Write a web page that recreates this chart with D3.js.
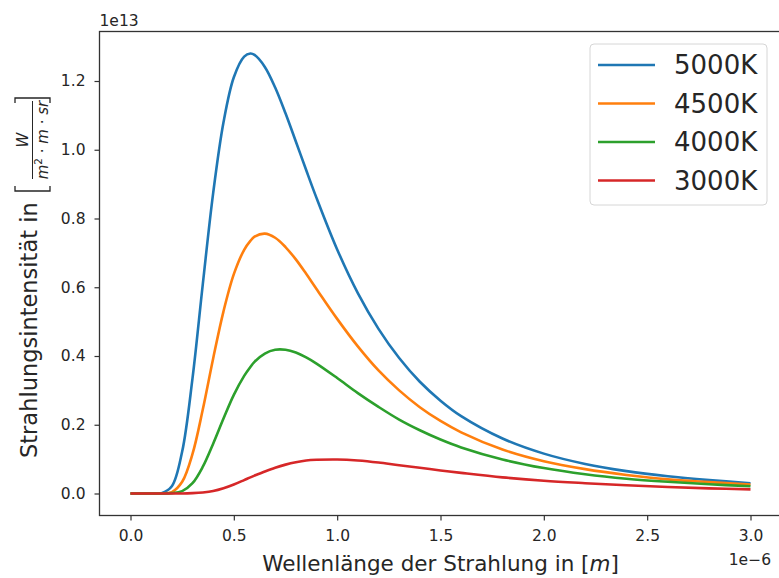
<!DOCTYPE html>
<html>
<head>
<meta charset="utf-8">
<script src="https://cdn.jsdelivr.net/npm/d3@7"></script>
<style>
  body { margin: 0; background: #fff; }
  text { font-family: "DejaVu Sans", sans-serif; fill: #262626; }
</style>
</head>
<body>
<svg class="chart" width="779" height="578"></svg>
<script>
// wavelength in 1e-6 m, intensity in 1e13 W/(m^2 m sr)
const wavelength = [0, 0.1, 0.15, 0.2, 0.25, 0.3, 0.35, 0.4, 0.45, 0.5,
  0.55, 0.58, 0.6, 0.65, 0.7, 0.75, 0.8, 0.85, 0.9,
  1.0, 1.1, 1.2, 1.3, 1.4, 1.5, 1.6,
  1.8, 2.0, 2.2, 2.4, 2.6, 2.8, 3.0];

const t5000 = [0, 0, 0.001, 0.021, 0.122, 0.335, 0.610, 0.874, 1.080, 1.211,
  1.271, 1.280, 1.276, 1.241, 1.181, 1.106, 1.024, 0.941, 0.860,
  0.710, 0.583, 0.479, 0.394, 0.325, 0.270, 0.225,
  0.160, 0.116, 0.086, 0.065, 0.050, 0.039, 0.030];
const t4500 = [0, 0, 0, 0.004, 0.034, 0.115, 0.245, 0.393, 0.530, 0.638,
  0.709, 0.735, 0.747, 0.756, 0.744, 0.717, 0.681, 0.639, 0.595,
  0.508, 0.428, 0.358, 0.300, 0.251, 0.211, 0.178,
  0.128, 0.094, 0.071, 0.054, 0.041, 0.033, 0.026];
const t4000 = [0, 0, 0, 0.001, 0.007, 0.030, 0.078, 0.145, 0.218, 0.287,
  0.342, 0.368, 0.383, 0.407, 0.418, 0.418, 0.410, 0.396, 0.378,
  0.336, 0.292, 0.252, 0.215, 0.184, 0.157, 0.134,
  0.099, 0.074, 0.056, 0.043, 0.034, 0.027, 0.021];
const t3000 = [0, 0, 0, 0, 0, 0.001, 0.003, 0.007, 0.015, 0.026,
  0.039, 0.047, 0.052, 0.064, 0.075, 0.084, 0.091, 0.096, 0.098,
  0.099, 0.096, 0.090, 0.082, 0.075, 0.067, 0.060,
  0.047, 0.037, 0.030, 0.024, 0.019, 0.015, 0.012];

const seriesNames = ["5000K", "4500K", "4000K", "3000K"];
const seriesValues = [t5000, t4500, t4000, t3000];
const seriesColors = ["#1f77b4", "#ff7f0e", "#2ca02c", "#d62728"];

const xTicks = [0, 0.5, 1.0, 1.5, 2.0, 2.5, 3.0];
const yTicks = [0, 0.2, 0.4, 0.6, 0.8, 1.0, 1.2];

const plot = {left: 99.5, right: 781.5, top: 31.5, bottom: 515.5};
const axisColor = "#333";

const svg = d3.select(".chart");

const x = d3.scaleLinear().domain([-0.15, 3.15]).range([plot.left, plot.right]);
const y = d3.scaleLinear().domain([-0.064, 1.344]).range([plot.bottom, plot.top]);

// curves
const line = d3.line()
  .x((d, i) => x(wavelength[i]))
  .y(d => y(d))
  .curve(d3.curveCatmullRom.alpha(0.5));

svg.append("g")
  .selectAll("path")
  .data(seriesValues)
  .enter().append("path")
    .attr("d", line)
    .attr("fill", "none")
    .attr("stroke", (d, i) => seriesColors[i])
    .attr("stroke-width", 2.6)
    .attr("stroke-linejoin", "round");

// axes
const xAxis = svg.append("g")
  .attr("transform", "translate(0," + plot.bottom + ")")
  .call(d3.axisBottom(x).tickValues(xTicks).tickFormat(d3.format(".1f"))
    .tickSize(5).tickPadding(9).tickSizeOuter(0));

const yAxis = svg.append("g")
  .attr("transform", "translate(" + plot.left + ",0)")
  .call(d3.axisLeft(y).tickValues(yTicks).tickFormat(d3.format(".1f"))
    .tickSize(5).tickPadding(9).tickSizeOuter(0));

[xAxis, yAxis].forEach(a => {
  a.select(".domain").remove();
  a.selectAll(".tick line").attr("stroke", axisColor).attr("stroke-width", 1.2);
  a.selectAll(".tick text")
    .attr("fill", "#262626")
    .style("font-family", "DejaVu Sans")
    .style("font-size", "15.5px");
});

// frame
svg.append("rect")
  .attr("x", plot.left)
  .attr("y", plot.top)
  .attr("width", plot.right - plot.left)
  .attr("height", plot.bottom - plot.top)
  .attr("fill", "none")
  .attr("stroke", axisColor)
  .attr("stroke-width", 1.3);

// offset texts
svg.append("text")
  .attr("x", plot.left)
  .attr("y", 26)
  .style("font-size", "15.5px")
  .text("1e13");

svg.append("text")
  .attr("x", 771)
  .attr("y", 565)
  .style("text-anchor", "end")
  .style("font-size", "15.5px")
  .text("1e\u22126");

// x axis title
const xTitle = svg.append("text")
  .attr("x", (plot.left + plot.right) / 2)
  .attr("y", 571)
  .style("text-anchor", "middle")
  .style("font-size", "21.5px");
xTitle.append("tspan").text("Wellenlänge der Strahlung in [");
xTitle.append("tspan").style("font-style", "italic").text("m");
xTitle.append("tspan").text("]");

// y axis title, rotated
const yTitle = svg.append("g")
  .attr("transform", "translate(37,458) rotate(-90)");

yTitle.append("text")
  .attr("x", 0)
  .attr("y", 0)
  .style("font-size", "22.5px")
  .text("Strahlungsintensität in");

yTitle.append("text")
  .attr("x", 318)
  .attr("y", -9)
  .style("text-anchor", "middle")
  .style("font-size", "15px")
  .style("font-style", "italic")
  .text("W");

yTitle.append("line")
  .attr("x1", 279).attr("x2", 357)
  .attr("y1", -4.5).attr("y2", -4.5)
  .attr("stroke", "#262626")
  .attr("stroke-width", 1);

const denom = yTitle.append("text")
  .attr("x", 318)
  .attr("y", 11)
  .style("text-anchor", "middle")
  .style("font-size", "15px");
denom.append("tspan").style("font-style", "italic").text("m");
denom.append("tspan").attr("dy", -6).style("font-size", "10.5px").text("2");
denom.append("tspan").attr("dy", 6).text(" · ");
denom.append("tspan").style("font-style", "italic").text("m");
denom.append("tspan").text(" · ");
denom.append("tspan").style("font-style", "italic").text("sr");

yTitle.append("path")
  .attr("d", "M272,-22H267V13H272M355,-22H360V13H355")
  .attr("fill", "none")
  .attr("stroke", "#262626")
  .attr("stroke-width", 1.3);

// legend
const legendBox = {x: 590, y: 44, w: 177, h: 161};
svg.append("rect")
  .attr("x", legendBox.x)
  .attr("y", legendBox.y)
  .attr("width", legendBox.w)
  .attr("height", legendBox.h)
  .attr("rx", 4)
  .attr("fill", "#fff")
  .attr("fill-opacity", 0.8)
  .attr("stroke", "#d6d6d6")
  .attr("stroke-width", 1);

const legend = svg.selectAll(".legend")
  .data(seriesNames)
  .enter().append("g")
    .attr("class", "legend")
    .attr("transform", (d, i) => "translate(0," + (65 + i * 38.5) + ")");

legend.append("line")
  .attr("x1", 598).attr("x2", 655)
  .attr("y1", 0).attr("y2", 0)
  .attr("stroke", (d, i) => seriesColors[i])
  .attr("stroke-width", 2.6);

legend.append("text")
  .attr("x", 674)
  .attr("dy", "0.36em")
  .style("font-size", "26px")
  .text(d => d);
</script>
</body>
</html>
